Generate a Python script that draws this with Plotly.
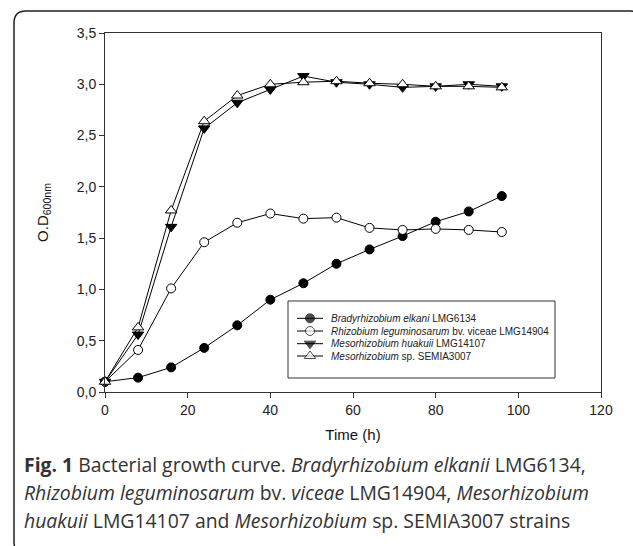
import plotly.graph_objects as go

time_h = [0, 8, 16, 24, 32, 40, 48, 56, 64, 72, 80, 88, 96]
brady = [0.10, 0.14, 0.24, 0.43, 0.65, 0.90, 1.06, 1.25, 1.39, 1.52, 1.66, 1.76, 1.91]
rhizo = [0.10, 0.41, 1.01, 1.46, 1.65, 1.74, 1.69, 1.70, 1.60, 1.58, 1.59, 1.58, 1.56]
meso_h = [0.10, 0.56, 1.61, 2.57, 2.82, 2.95, 3.08, 3.02, 3.00, 2.97, 2.98, 3.00, 2.98]
meso_sp = [0.10, 0.63, 1.77, 2.64, 2.89, 3.00, 3.02, 3.03, 3.01, 3.00, 2.98, 2.98, 2.97]

series_names = [
    "<i>Bradyrhizobium elkani</i> LMG6134",
    "<i>Rhizobium leguminosarum</i> bv. viceae LMG14904",
    "<i>Mesorhizobium huakuii</i> LMG14107",
    "<i>Mesorhizobium</i> sp. SEMIA3007",
]
series_values = [brady, rhizo, meso_h, meso_sp]
series_symbols = ["circle", "circle", "triangle-down", "triangle-up"]
series_fill = ["black", "white", "black", "white"]

x_ticks = [0, 20, 40, 60, 80, 100, 120]
y_ticks = [0.0, 0.5, 1.0, 1.5, 2.0, 2.5, 3.0, 3.5]
y_tick_labels = ["0,0", "0,5", "1,0", "1,5", "2,0", "2,5", "3,0", "3,5"]

W, H = 633, 546
L, R, T, B = 105, 601, 33, 392  # plot area in pixels


def px(x):
    return (x - L) / (R - L)


def py(y):
    return (B - y) / (B - T)


fig = go.Figure()

for name, vals, sym, fill in zip(series_names, series_values, series_symbols, series_fill):
    fig.add_trace(go.Scatter(
        x=time_h, y=vals, mode="lines+markers", name=name,
        line=dict(color="black", width=1),
        marker=dict(symbol=sym, size=9 if sym == "circle" else 10, color=fill,
                    line=dict(color="black", width=1)),
        showlegend=False, cliponaxis=False,
    ))

# custom legend (symbols on overlay axis in paper coords)
row_y = [318.3, 331.0, 343.7, 356.0]
for i, (name, sym, fill) in enumerate(zip(series_names, series_symbols, series_fill)):
    yy = py(row_y[i])
    fig.add_trace(go.Scatter(
        x=[px(297), px(310), px(323)], y=[yy, yy, yy], mode="lines+markers",
        xaxis="x2", yaxis="y2", showlegend=False, hoverinfo="skip",
        line=dict(color="black", width=1),
        marker=dict(symbol=sym, size=[0, 9 if sym == "circle" else 10, 0], color=fill,
                    line=dict(color="black", width=1)),
        cliponaxis=False,
    ))
    fig.add_annotation(x=px(329), y=yy, xref="paper", yref="paper", text=name,
                       showarrow=False, xanchor="left", yanchor="middle",
                       font=dict(family="Arial, Liberation Sans", size=10, color="#222"))

fig.add_shape(type="rect", xref="paper", yref="paper",
              x0=px(288), x1=px(555), y0=py(378), y1=py(301),
              line=dict(color="#333", width=1), fillcolor="rgba(0,0,0,0)", layer="below")

# outer rounded frame
x0, x1, y0, y1, r = 14, 642, 11, 554, 12
path = (f"M {px(x0)},{py(y0 + r)} L {px(x0)},{py(y1 - r)} Q {px(x0)},{py(y1)} {px(x0 + r)},{py(y1)} "
        f"L {px(x1 - r)},{py(y1)} Q {px(x1)},{py(y1)} {px(x1)},{py(y1 - r)} "
        f"L {px(x1)},{py(y0 + r)} Q {px(x1)},{py(y0)} {px(x1 - r)},{py(y0)} "
        f"L {px(x0 + r)},{py(y0)} Q {px(x0)},{py(y0)} {px(x0)},{py(y0 + r)} Z")
fig.add_shape(type="path", xref="paper", yref="paper", path=path,
              line=dict(color="#222", width=1.5))

# caption
cap_font = dict(family="Open Sans, Noto Sans", size=19.4, color="#333")
captions = [
    "<b>Fig. 1</b> Bacterial growth curve. <i>Bradyrhizobium elkanii</i> LMG6134,",
    "<i>Rhizobium leguminosarum</i> bv. <i>viceae</i> LMG14904, <i>Mesorhizobium</i>",
    "<i>huakuii</i> LMG14107 and <i>Mesorhizobium</i> sp. SEMIA3007 strains",
]
for cy, txt in zip([464, 492, 520], captions):
    fig.add_annotation(x=px(22), y=py(cy), xref="paper", yref="paper", text=txt,
                       showarrow=False, xanchor="left", yanchor="middle", font=cap_font)

axis_font = dict(family="Arial, Liberation Sans", size=14, color="#222")
title_font = dict(family="Arial, Liberation Sans", size=15, color="#111")
fig.update_layout(
    width=W, height=H,
    margin=dict(l=L, r=W - R, t=T, b=H - B, pad=0),
    paper_bgcolor="white", plot_bgcolor="white",
    showlegend=False,
    xaxis=dict(range=[0, 120], tickvals=x_ticks, ticks="outside", ticklen=5,
               tickcolor="#333", showline=True, linecolor="#333", linewidth=1, mirror=True,
               showgrid=False, zeroline=False, tickfont=axis_font, automargin=False,
               title=dict(text="Time (h)", font=title_font, standoff=12)),
    yaxis=dict(range=[0, 3.5], tickvals=y_ticks, ticktext=y_tick_labels, ticks="outside", ticklen=5,
               tickcolor="#333", showline=True, linecolor="#333", linewidth=1, mirror=True,
               showgrid=False, zeroline=False, tickfont=axis_font, automargin=False,
               title=dict(text="O.D<sub>600nm</sub>", font=title_font, standoff=24)),
    xaxis2=dict(range=[0, 1], overlaying="x", visible=False, fixedrange=True, automargin=False),
    yaxis2=dict(range=[0, 1], overlaying="y", visible=False, fixedrange=True, automargin=False),
)

fig.write_html("out.html", config={"displayModeBar": False},
               post_script="document.body.style.margin='0px';")
